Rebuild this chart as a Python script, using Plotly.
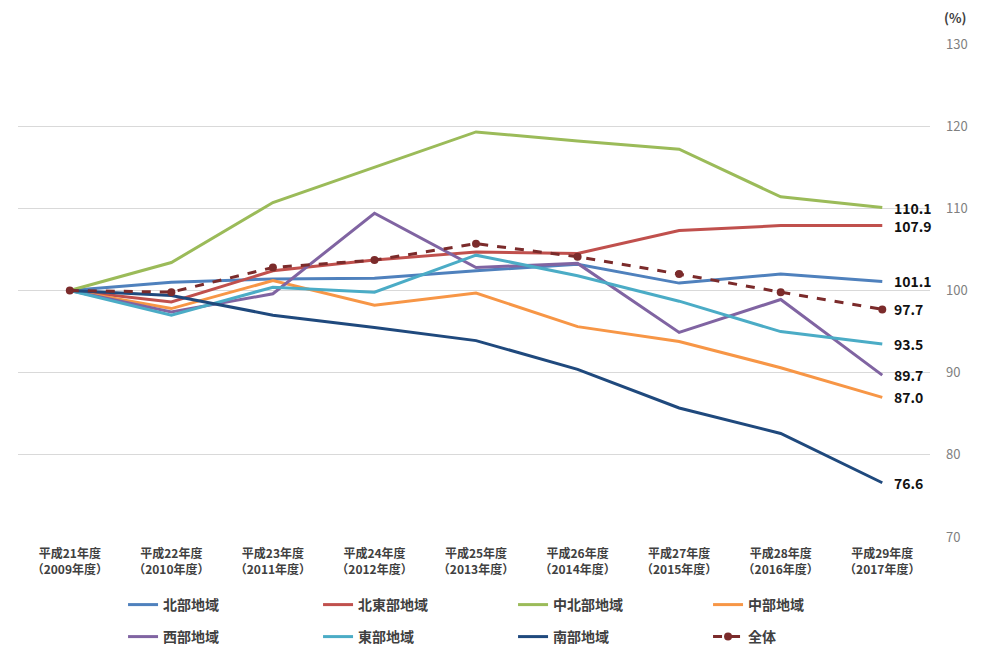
import plotly.graph_objects as go

years = ["平成21年度<br>（2009年度）", "平成22年度<br>（2010年度）", "平成23年度<br>（2011年度）",
         "平成24年度<br>（2012年度）", "平成25年度<br>（2013年度）", "平成26年度<br>（2014年度）",
         "平成27年度<br>（2015年度）", "平成28年度<br>（2016年度）", "平成29年度<br>（2017年度）"]

hokubu      = [100, 101.0, 101.4, 101.5, 102.4, 103.2, 100.9, 102.0, 101.1]
hokutobu    = [100, 98.6, 102.4, 103.7, 104.7, 104.5, 107.3, 107.9, 107.9]
chuhokubu   = [100, 103.4, 110.7, 115.0, 119.3, 118.2, 117.2, 111.4, 110.1]
chubu       = [100, 97.8, 101.2, 98.2, 99.7, 95.6, 93.8, 90.6, 87.0]
seibu       = [100, 97.4, 99.6, 109.4, 102.8, 103.3, 94.9, 98.9, 89.7]
tobu        = [100, 97.0, 100.4, 99.8, 104.3, 101.8, 98.7, 95.0, 93.5]
nanbu       = [100, 99.4, 97.0, 95.5, 93.9, 90.4, 85.7, 82.6, 76.6]
zentai      = [100, 99.8, 102.8, 103.7, 105.7, 104.1, 102.0, 99.8, 97.7]

y_ticks = [70, 80, 90, 100, 110, 120, 130]

series = [
    ("北部地域", hokubu, "#4F81BD", "legend"),
    ("北東部地域", hokutobu, "#C0504D", "legend"),
    ("中北部地域", chuhokubu, "#9BBB59", "legend"),
    ("中部地域", chubu, "#F79646", "legend"),
    ("西部地域", seibu, "#8064A2", "legend2"),
    ("東部地域", tobu, "#4BACC6", "legend2"),
    ("南部地域", nanbu, "#1F497D", "legend2"),
]

FONT = "Noto Sans CJK JP"
fig = go.Figure()
for name, vals, color, lg in series:
    fig.add_trace(go.Scatter(x=years, y=vals, name=name, mode="lines",
                             line=dict(color=color, width=3), legend=lg))
fig.add_trace(go.Scatter(x=years, y=zentai, name="全体", mode="lines+markers",
                         line=dict(color="#7B2B2B", width=3, dash="dash"),
                         marker=dict(symbol="circle", size=8, color="#7B2B2B"),
                         legend="legend2"))

# end-value labels
for name, vals, color, lg in series + [("全体", zentai, "#7B2B2B", "legend2")]:
    fig.add_annotation(x=years[-1], y=vals[-1], text=f"<b>{vals[-1]:.1f}</b>",
                       showarrow=False, xanchor="left", xshift=10,
                       font=dict(family=FONT, size=14, color="#111111"))

fig.add_annotation(xref="paper", yref="paper", x=1.013, y=1.0, yshift=27,
                   yanchor="middle", text="<b>(%)</b>", showarrow=False, xanchor="left",
                   font=dict(family=FONT, size=13, color="#404040"))

# The page body adds an 8px offset, so container coordinates are shifted by 8px
legend_common = dict(orientation="h", xanchor="left", yanchor="middle",
                     xref="container", yref="container",
                     entrywidth=150, entrywidthmode="pixels",
                     font=dict(family=FONT, size=14, color="#404040", weight="bold"),
                     bgcolor="rgba(0,0,0,0)", itemclick=False, itemdoubleclick=False)

fig.update_layout(
    width=1003, height=650,
    margin=dict(l=10, r=81, t=36, b=121),
    paper_bgcolor="white", plot_bgcolor="white",
    font=dict(family=FONT),
    showlegend=True,
    legend=dict(x=0.1147, y=1 - 597 / 650, **legend_common),
    legend2=dict(x=0.1147, y=1 - 629 / 650, **legend_common),
    xaxis=dict(type="category", range=[-0.51, 8.47], showgrid=False, showline=False,
               ticks="", ticklabelstandoff=8,
               tickfont=dict(family=FONT, size=12, color="#404040", weight="bold"),
               fixedrange=True),
    yaxis=dict(side="right", range=[70, 130], tickvals=y_ticks,
               showgrid=True, gridcolor="#D9D9D9", gridwidth=1, zeroline=False,
               showline=False, ticks="", ticklabelstandoff=15,
               tickfont=dict(family=FONT, size=13, color="#808080"), fixedrange=True),
)

fig.write_html("out.html")
